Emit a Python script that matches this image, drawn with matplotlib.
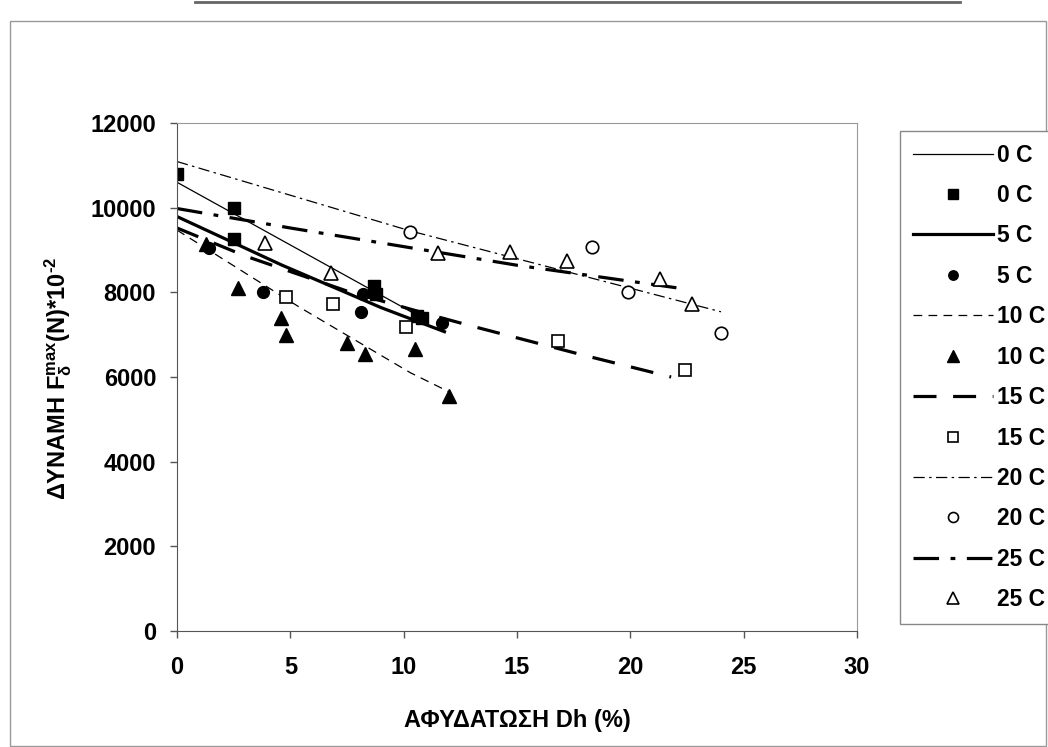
import numpy as np
import matplotlib
matplotlib.use("Agg")
import matplotlib.pyplot as plt
from matplotlib.lines import Line2D
from matplotlib.patches import Rectangle

plt.rcParams['font.family'] = ['Liberation Sans', 'DejaVu Sans']
plt.rcParams['font.weight'] = 'bold'
plt.rcParams['mathtext.fontset'] = 'custom'
plt.rcParams['mathtext.rm'] = 'Liberation Sans:bold'
plt.rcParams['mathtext.it'] = 'Liberation Sans:bold'
plt.rcParams['mathtext.bf'] = 'Liberation Sans:bold'

# measured points (dehydration %, force)
x_0 = [0, 2.5, 2.5, 8.7, 8.8, 10.6, 10.8]
y_0 = [10800, 10000, 9250, 8150, 7950, 7450, 7400]
x_5 = [1.4, 3.8, 8.1, 8.2, 11.7]
y_5 = [9050, 8000, 7540, 7960, 7270]
x_10 = [1.3, 2.7, 4.6, 4.8, 7.5, 8.3, 10.5, 12.0]
y_10 = [9150, 8100, 7400, 7000, 6800, 6550, 6650, 5550]
x_15 = [4.8, 6.9, 10.1, 16.8, 22.4]
y_15 = [7880, 7720, 7180, 6860, 6160]
x_20 = [10.3, 18.3, 19.9, 24.0]
y_20 = [9430, 9060, 8000, 7040]
x_25 = [3.9, 6.8, 11.5, 14.7, 17.2, 21.3, 22.7]
y_25 = [9170, 8460, 8930, 8960, 8740, 8320, 7730]

# trend lines
tx_0 = [0, 10.8]
ty_0 = [10600, 7400]
tx_5 = [0, 4.6, 9.0, 11.8]
ty_5 = [9790, 8650, 7640, 7070]
tx_10 = [0, 5.4, 10.3, 12.0]
ty_10 = [9470, 7650, 6100, 5650]
tx_15 = [0, 3.0, 7.5, 11.3, 13.1, 17.9, 21.8]
ty_15 = [9520, 8860, 8030, 7450, 7190, 6520, 6000]
tx_20 = [0, 10.3, 24.0]
ty_20 = [11090, 9450, 7540]
tx_25 = [0, 5.0, 15.0, 22.4]
ty_25 = [9980, 9520, 8640, 8080]

labels = ['0 C', '5 C', '10 C', '15 C', '20 C', '25 C']

fig = plt.figure(figsize=(10.48, 7.47), dpi=100)
ax = fig.add_axes([177 / 1048, 1 - 631 / 747, 680 / 1048, 508 / 747])

thin = 0.9
thick = 2.3
ax.plot(tx_0, ty_0, color='black', lw=thin, label=labels[0])
ax.plot(x_0, y_0, ls='none', marker='s', ms=9, color='black', label=labels[0])
ax.plot(tx_5, ty_5, color='black', lw=thick, label=labels[1])
ax.plot(x_5, y_5, ls='none', marker='o', ms=8.5, color='black', label=labels[1])
ax.plot(tx_10, ty_10, color='black', lw=thin, dashes=(7, 5), label=labels[2])
ax.plot(x_10, y_10, ls='none', marker='^', ms=10, color='black', label=labels[2])
ax.plot(tx_15, ty_15, color='black', lw=thick, dashes=(7.2, 5.2), label=labels[3])
ax.plot(x_15, y_15, ls='none', marker='s', ms=9, mfc='white', mec='black', mew=1.2, label=labels[3])
ax.plot(tx_20, ty_20, color='black', lw=thin, dashes=(9, 3.5, 2, 3.5), label=labels[4])
ax.plot(x_20, y_20, ls='none', marker='o', ms=9, mfc='white', mec='black', mew=1.2, label=labels[4])
ax.plot(tx_25, ty_25, color='black', lw=thick, dashes=(8, 3.6, 1.5, 3.6), label=labels[5])
ax.plot(x_25, y_25, ls='none', marker='^', ms=10.5, mfc='white', mec='black', mew=1.2, label=labels[5])

ax.set_xlim(0, 30)
ax.set_ylim(0, 12000)
ax.set_xticks(np.arange(0, 31, 5))
ax.set_yticks(np.arange(0, 12001, 2000))
ax.tick_params(direction='out', length=5, width=1, color='#555555', labelsize=17)
ax.tick_params(axis='x', pad=13)
ax.tick_params(axis='y', pad=10)
for s in ['left', 'bottom']:
    ax.spines[s].set_color('#555555')
for s in ['top', 'right']:
    ax.spines[s].set_color('#999999')
for lab in ax.get_xticklabels() + ax.get_yticklabels():
    lab.set_fontweight('bold')

fig.text(517 / 1048, 1 - 720 / 747, 'ΑΦΥΔΑΤΩΣΗ Dh (%)', ha='center', va='center',
         fontsize=17, fontweight='bold')
fig.text(58 / 1048, 1 - 378 / 747, r'ΔΥΝΑΜΗ F$^{max}_{δ}$(N)*10$^{\text{-}2}$', ha='center', va='center',
         rotation=90, fontsize=17, fontweight='bold')

leg = fig.legend(loc='upper left', bbox_to_anchor=(900 / 1048, 1 - 131 / 747), borderaxespad=0,
                 fontsize=16.5, frameon=True, fancybox=False, edgecolor='#888888', framealpha=1,
                 handlelength=3.5, handletextpad=0.2, labelspacing=0.76, borderpad=0.55,
                 numpoints=1, markerscale=0.8)
leg.get_frame().set_linewidth(1)
for t in leg.get_texts():
    t.set_fontweight('bold')

# page frame around the chart
fig.add_artist(Rectangle((10 / 1048, 1 / 747), 1036 / 1048, 725 / 747, transform=fig.transFigure,
                         fill=False, edgecolor='#999999', lw=1))
fig.add_artist(Line2D([195 / 1048, 960 / 1048], [1 - 2 / 747, 1 - 2 / 747], transform=fig.transFigure,
                      color='#666666', lw=2))

fig.savefig('out.png', dpi=100)
